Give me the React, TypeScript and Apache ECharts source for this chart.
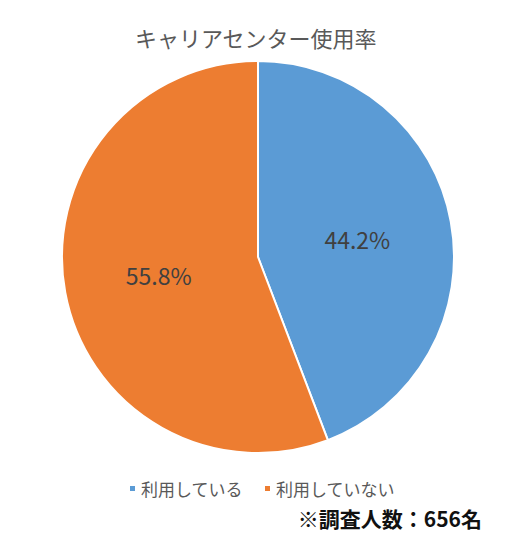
import React, { useEffect, useRef } from "react";
import * as echarts from "echarts";

const titleText = "キャリアセンター使用率";
const categories = ["利用している", "利用していない"];
const percents = [44.2, 55.8];
const colors = ["#5B9BD5", "#ED7D31"];
const footnote = "※調査人数：656名";

const FONT = '"Noto Sans CJK JP", "Noto Sans", sans-serif';

export default function App() {
  const ref = useRef<HTMLDivElement>(null);
  useEffect(() => {
    if (!ref.current) return;
    const chart = echarts.init(ref.current, undefined, { renderer: "svg" });
    chart.setOption({
      animation: false,
      backgroundColor: "#ffffff",
      title: {
        text: titleText,
        left: 130,
        top: 21,
        textStyle: { fontFamily: FONT, fontSize: 22, fontWeight: "normal", color: "#595959" },
      },
      legend: {
        data: categories,
        bottom: 46,
        left: 123,
        icon: "rect",
        itemWidth: 7,
        itemHeight: 7,
        itemGap: 20,
        textStyle: { fontFamily: FONT, fontSize: 17, color: "#595959" },
      },
      graphic: [
        {
          type: "text",
          right: 44,
          top: 507,
          style: {
            text: footnote,
            font: `bold 21px ${FONT}`,
            fill: "#111111",
          },
        },
      ],
      series: [
        {
          type: "pie",
          center: [258, 257],
          radius: [0, 196],
          startAngle: 90,
          clockwise: true,
          itemStyle: { borderColor: "#ffffff", borderWidth: 2 },
          label: {
            show: true,
            position: "inside",
            fontFamily: FONT,
            fontSize: 23,
            color: "#404040",
            formatter: (p: any) => p.value.toFixed(1) + "%",
          },
          labelLine: { show: false },
          emphasis: { disabled: true },
          data: categories.map((c, i) => ({
            name: c,
            value: percents[i],
            itemStyle: { color: colors[i] },
          })),
        },
      ],
    });
    return () => chart.dispose();
  }, []);
  return (
    <div
      ref={ref}
      style={{ position: "fixed", left: 0, top: 0, width: 526, height: 548 }}
    />
  );
}
